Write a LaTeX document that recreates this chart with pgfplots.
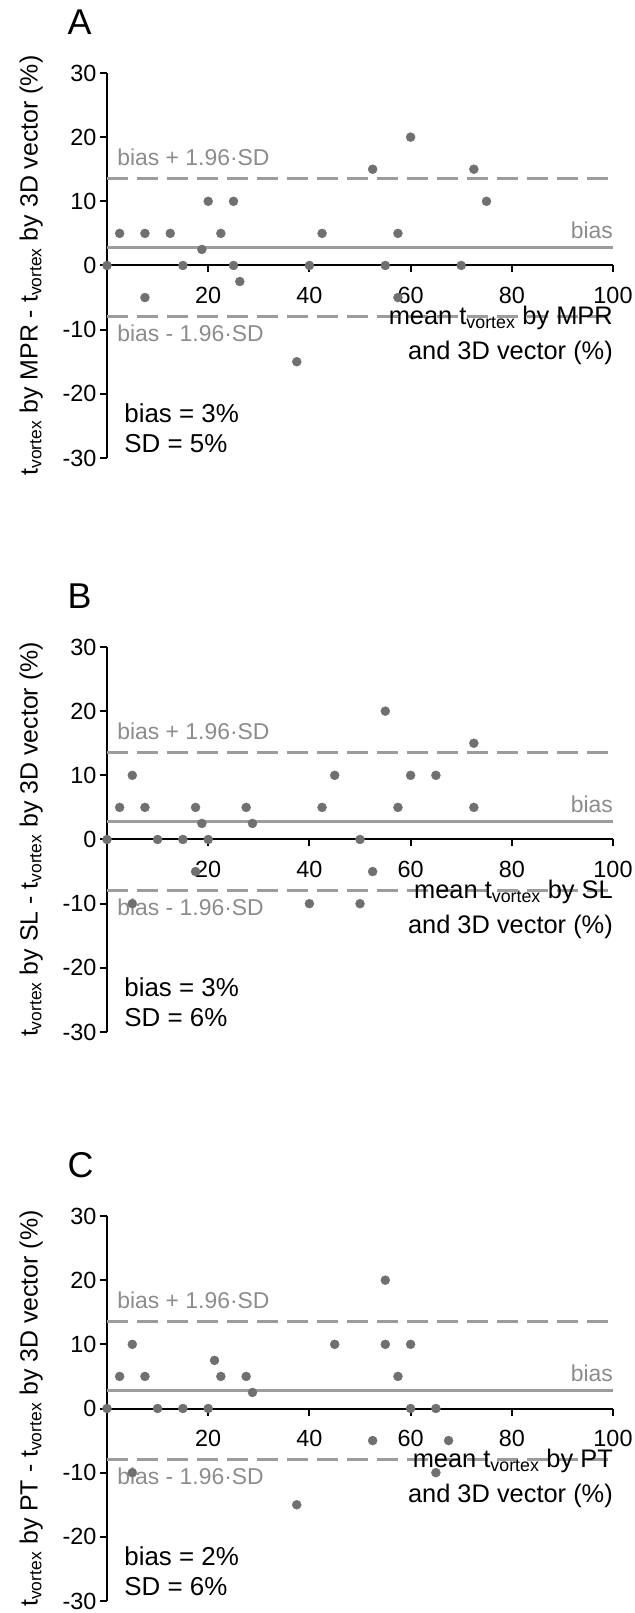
\documentclass[border=0pt]{standalone}
\usepackage{fontspec}
\setmainfont{Liberation Sans}
\usepackage{pgfplots}
\pgfplotsset{compat=1.18}

\definecolor{dotgray}{HTML}{707070}
\definecolor{linegray}{HTML}{9C9C9C}
\definecolor{textgray}{HTML}{8C8C8C}

\newcommand{\tv}{t\textsubscript{vortex}}

\tikzset{txt/.style={inner sep=0pt, font=\fontsize{#1}{#1}\selectfont}}

\pgfplotsset{
  ba/.style={
    width=506bp, height=385bp, scale only axis,
    anchor=south west,
    xmin=0, xmax=100, ymin=-30, ymax=30,
    axis x line=middle, axis y line=left,
    axis line style={black, line width=2bp, -},
    xtick={20,40,60,80,100}, ytick={-30,-20,...,30},
    tick align=outside, major tick length=7bp,
    tick style={black, line width=2bp},
    hide obscured y ticks=false,
    ticklabel style={font=\fontsize{23.5}{27}\selectfont},
    xticklabel style={yshift=-11bp},
    /pgf/number format/assume math mode=true,
    y label style={at={(axis description cs:-0.137,0.5)}, anchor=base,
      font=\fontsize{25}{29}\selectfont},
    clip=false,
  },
  dots/.style={only marks, mark=*, mark size=4.5bp, color=dotgray},
  biasline/.style={linegray, line width=3bp},
  loaline/.style={linegray, line width=3bp, dash pattern=on 21bp off 9bp},
}

% Bland-Altman data: mean (x), difference (y)
\pgfplotstableread{
x y
0 0
2.5 5
7.5 5
7.5 -5
12.5 5
15 0
18.75 2.5
20 10
22.5 5
25 10
25 0
26.25 -2.5
37.5 -15
40 0
42.5 5
52.5 15
55 0
57.5 5
57.5 -5
60 20
70 0
72.5 15
75 10
}\dataA

\pgfplotstableread{
x y
0 0
2.5 5
5 10
5 -10
7.5 5
10 0
15 0
17.5 5
17.5 -5
18.75 2.5
20 0
27.5 5
28.75 2.5
40 -10
42.5 5
45 10
50 0
50 -10
52.5 -5
55 20
57.5 5
60 10
65 10
72.5 15
72.5 5
}\dataB

\pgfplotstableread{
x y
0 0
2.5 5
5 10
5 -10
7.5 5
10 0
15 0
20 0
21.25 7.5
22.5 5
27.5 5
28.75 2.5
37.5 -15
45 10
52.5 -5
55 20
55 10
57.5 5
60 10
60 0
65 0
65 -10
67.5 -5
}\dataC

\newcommand{\panelbits}[5]{%
  \addplot[biasline] coordinates {(0,2.8) (100,2.8)};
  \addplot[loaline] coordinates {(0,13.6) (100,13.6)};
  \addplot[loaline] coordinates {(0,-8) (100,-8)};
  \addplot[dots] table {#2};
  \node[anchor=base west, txt=36] at (axis description cs:-0.078,1.101) {#1};
  \node[anchor=base west, textgray, txt=23] at (axis cs:2,15.55) {bias + 1.96·SD};
  \node[anchor=base west, textgray, txt=23] at (axis cs:2,-11.8) {bias - 1.96·SD};
  \node[anchor=base east, textgray, txt=23] at (axis cs:100,4.15) {bias};
  \node[anchor=base east, txt=25.5] at (axis cs:100,-9.2) {mean \tv{} by #3};
  \node[anchor=base east, txt=25.5] at (axis cs:100,-14.6) {and 3D vector (\%)};
  \node[anchor=base west, txt=26] at (axis cs:3.4,-24.4) {bias = #4\%};
  \node[anchor=base west, txt=26] at (axis cs:3.4,-29.1) {SD = #5\%};
}

\begin{document}
\begin{tikzpicture}[x=1bp,y=1bp]
\useasboundingbox (0,0) rectangle (635,1613);

\begin{axis}[ba, at={(107bp,1155bp)}, ylabel={\tv{} by MPR - \tv{} by 3D vector (\%)}]
\panelbits{A}{\dataA}{MPR}{3}{5}
\end{axis}

\begin{axis}[ba, at={(107bp,581bp)}, ylabel={\tv{} by SL - \tv{} by 3D vector (\%)}]
\panelbits{B}{\dataB}{SL}{3}{6}
\end{axis}

\begin{axis}[ba, at={(107bp,12bp)}, ylabel={\tv{} by PT - \tv{} by 3D vector (\%)}]
\panelbits{C}{\dataC}{PT}{2}{6}
\end{axis}

\end{tikzpicture}
\end{document}
